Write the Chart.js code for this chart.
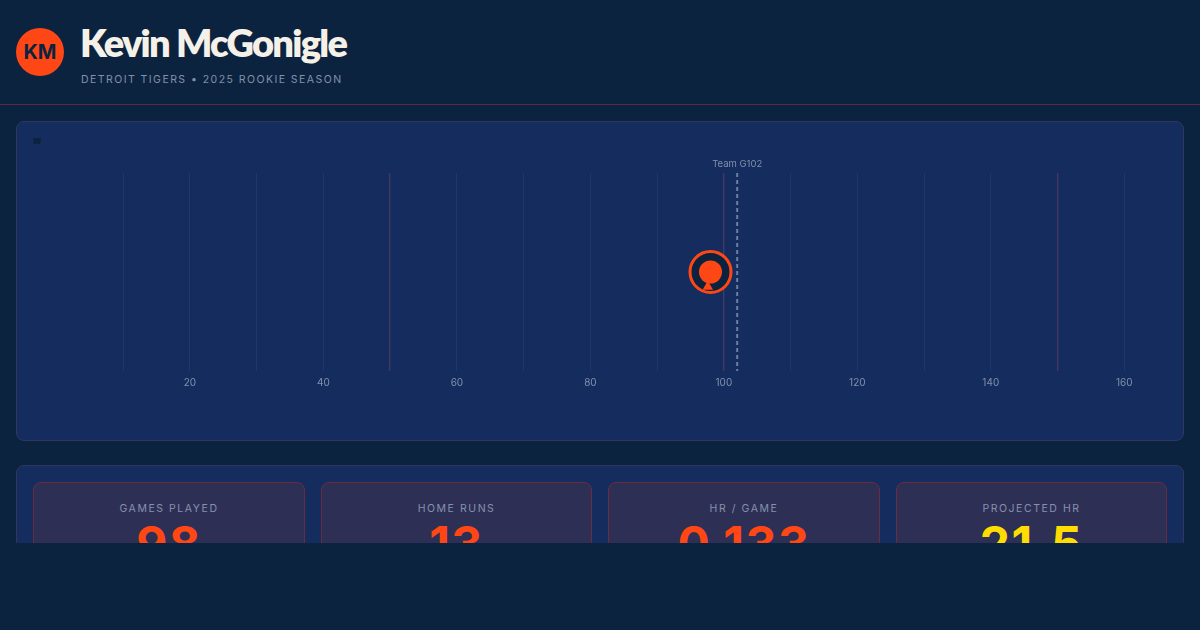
<!DOCTYPE html>
<html><head><meta charset="utf-8">
<script src="https://cdn.jsdelivr.net/npm/chart.js@4"></script>
<style>
html,body{margin:0;padding:0;background:#0c2340;width:1200px;height:630px;overflow:hidden}
#wrap{position:absolute;left:0;top:0;width:1200px;height:543px;overflow:hidden;font-family:Inter,sans-serif}
.abs{position:absolute}
#hline{left:0;top:104px;width:1200px;height:1px;background:#5c2a3c}
#avatar{left:16px;top:28px;width:48px;height:48px;border-radius:50%;background:#ff4715;color:#0c2340;font:700 20px/49px Inter,sans-serif;letter-spacing:0;text-align:center}
#name{left:80px;top:19px;font:800 38px/46px Lato,sans-serif;color:#f5f1e8;letter-spacing:-1.75px;white-space:nowrap}
#sub{left:81px;top:72px;font:400 10.5px/15px Inter,sans-serif;color:#8291ab;letter-spacing:1.45px;white-space:nowrap}
.panel{background:#152c5f;border:1px solid #30365f;border-radius:8px;box-sizing:border-box}
#p1{left:16px;top:121px;width:1168px;height:320px}
#p2{left:16px;top:465px;width:1168px;height:200px}
#glyph{left:33px;top:138px;width:8px;height:6px;background:#0c2340;clip-path:polygon(0 0,100% 0,92% 100%,8% 100%)}
#cv{position:absolute;left:33px;top:138px;width:1134px;height:285px}
.card{top:482px;height:180px;box-sizing:border-box;background:#2d2f55;border:1px solid #6b2c3f;border-radius:8px;text-align:center}
.lab{position:absolute;left:0;right:0;top:19px;font:400 10.5px/14px Inter,sans-serif;letter-spacing:1.55px;color:#8791ad}
.val{position:absolute;left:0;right:0;top:32px;font:700 48px/58px Inter,sans-serif;letter-spacing:1.5px}
</style></head><body>
<div id="wrap">
<div class="abs" id="hline"></div>
<div class="abs" id="avatar">KM</div>
<div class="abs" id="name">Kevin McGonigle</div>
<div class="abs" id="sub">DETROIT TIGERS • 2025 ROOKIE SEASON</div>
<div class="abs panel" id="p1"></div>
<div class="abs" id="glyph"></div>
<div id="cvbox"><canvas id="cv" width="1134" height="285"></canvas></div>
<div class="abs panel" id="p2"></div>
<div id="cards"></div>
</div>
<script>
const gamesPlayed = [98];
const teamGames = [102];
const yMarker = [0];
const pointerOffset = [-0.15];
const teamLabel = "Team G102";
const xMax = 162;
const statLabels = ["GAMES PLAYED","HOME RUNS","HR / GAME","PROJECTED HR"];
const statValues = ["98","13","0.133","21.5"];
const statColors = ["#ff4715","#ff4715","#ff4715","#ffdd00"];
const cardLefts = [33,321,608,896];
const cardWidths = [272,271,272,271];

const cards = document.getElementById('cards');
statLabels.forEach((l,i)=>{
  const c=document.createElement('div');c.className='abs card';
  c.style.left=cardLefts[i]+'px';c.style.width=cardWidths[i]+'px';
  const a=document.createElement('div');a.className='lab';a.textContent=l;
  const b=document.createElement('div');b.className='val';b.textContent=statValues[i];b.style.color=statColors[i];
  c.append(a,b);cards.append(c);
});

const teamText = {
  id:'teamText',
  afterDraw(ch){
    const x=ch.scales.x.getPixelForValue(teamGames[0]);
    const c=ch.ctx;c.save();c.font='400 9.5px Inter, sans-serif';c.fillStyle='#8291ab';
    c.textAlign='center';c.textBaseline='middle';
    c.fillText(teamLabel,x,ch.chartArea.top-9);c.restore();
  }
};

new Chart(document.getElementById('cv'),{
  type:'scatter',
  data:{datasets:[
    {label:'Team games',type:'line',data:[{x:teamGames[0],y:1},{x:teamGames[0],y:-1}],borderColor:'#6f7fa0',borderWidth:2,borderDash:[4,3],pointRadius:0,order:3},
    {label:'Ring',data:[{x:gamesPlayed[0],y:yMarker[0]}],pointRadius:20.5,pointHoverRadius:20.5,backgroundColor:'#0c2340',borderColor:'#ff4715',borderWidth:3,order:2},
    {label:'Pointer',data:[{x:gamesPlayed[0]-0.4,y:pointerOffset[0]}],pointStyle:'triangle',pointRadius:6,backgroundColor:'#ff4715',borderColor:'#ff4715',borderWidth:0,order:1},
    {label:'Games',data:[{x:gamesPlayed[0],y:yMarker[0]}],pointRadius:11.5,backgroundColor:'#ff4715',borderColor:'#ff4715',borderWidth:0,order:0}
  ]},
  options:{
    responsive:false,animation:false,
    layout:{padding:{left:21.6,right:29.4,top:35,bottom:0}},
    plugins:{legend:{display:false},tooltip:{enabled:false}},
    scales:{
      y:{display:false,min:-1,max:1},
      x:{type:'linear',min:0,max:xMax,
        border:{display:false},
        grid:{drawTicks:false,color(ctx){const v=ctx.tick.value;
          if(v===0)return 'rgba(0,0,0,0)';
          return v%50===0?'rgba(255,90,110,0.22)':'rgba(255,255,255,0.055)';},lineWidth(ctx){return ctx.tick.value%50===0?1.4:1;}},
        ticks:{stepSize:10,includeBounds:false,autoSkip:false,maxRotation:0,padding:6,color:'#8291ab',
          font:{family:'Inter, sans-serif',size:10},
          callback(v){return (v!==0&&v%20===0)?String(v):'';}},
        afterFit(s){s.height=52;}
      }
    }
  },
  plugins:[teamText]
});
</script>
</body></html>
